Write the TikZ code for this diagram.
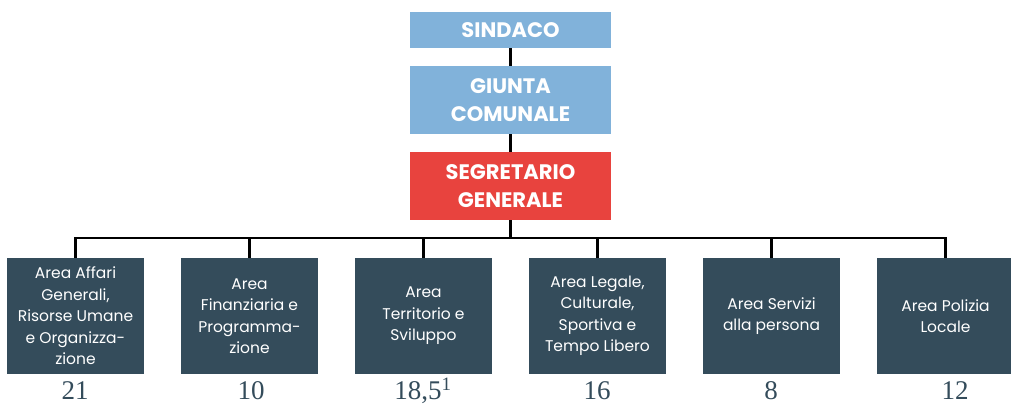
\documentclass[tikz,border=0pt]{standalone}
\usepackage{fontspec}
\setmainfont{Poppins}
\newfontfamily\numfont{Liberation Serif}
\definecolor{lblue}{HTML}{81B2DA}
\definecolor{sred}{HTML}{E8433E}
\definecolor{slate}{HTML}{344C5B}
\tikzset{
  topbox/.style={fill=lblue, text=white, minimum width=201pt, inner sep=0pt, align=center,
    font=\fontsize{21}{28}\selectfont\bfseries},
  areabox/.style={fill=slate, text=white, minimum width=137pt, minimum height=116pt, inner sep=0pt,
    align=center, font=\fontsize{15.5}{21.5}\selectfont},
  numlabel/.style={text=slate, inner sep=0pt, anchor=base, text depth=0pt, font=\numfont\fontsize{27}{28}\selectfont},
  conn/.style={draw=black, line width=2.8pt}
}
\begin{document}
\begin{tikzpicture}[x=1pt,y=-1pt]
\useasboundingbox (0,0) rectangle (1011,405);
\fill[white] (0,0) rectangle (1011,405);
\node[topbox, minimum height=36pt] (sind) at (510.5,30) {SINDACO};
\node[topbox, minimum height=68pt] (giunta) at (510.5,100) {GIUNTA\\COMUNALE};
\node[topbox, fill=sred, minimum height=68pt] (segr) at (510.5,186) {SEGRETARIO\\GENERALE};
\node[areabox] (a1) at (75.5,316) {Area Affari\\Generali,\\Risorse Umane\\e Organizza-\\zione};
\node[areabox] (a2) at (249.5,316) {Area\\Finanziaria e\\Programma-\\zione};
\node[areabox] (a3) at (423.5,316) {Area\\Territorio e\\Sviluppo};
\node[areabox] (a4) at (597.5,316) {Area Legale,\\Culturale,\\Sportiva e\\Tempo Libero};
\node[areabox] (a5) at (771.5,316) {Area Servizi\\alla persona};
\node[areabox] (a6) at (945.5,316) {Area Polizia\\Locale};
\node[numlabel] (n1) at (75,399.5) {21};
\node[numlabel] (n2) at (251,399.5) {10};
\node[numlabel] (n3) at (423,399.5) {18,5\textsuperscript{1}};
\node[numlabel] (n4) at (597,399.5) {16};
\node[numlabel] (n5) at (771,399.5) {8};
\node[numlabel] (n6) at (955,399.5) {12};
\coordinate (busL) at (75.5,238);
\coordinate (busR) at (945.5,238);
\draw[conn] (sind.south) -- (giunta.north);
\draw[conn] (giunta.south) -- (segr.north);
\draw[conn] (segr.south) -- (segr.south |- busL);
\draw[conn, line cap=rect] (busL) -- (busR);
\foreach \b in {a1,a2,a3,a4,a5,a6} {
  \draw[conn] (\b.north) -- (\b.north |- busL);
}
\end{tikzpicture}
\end{document}
